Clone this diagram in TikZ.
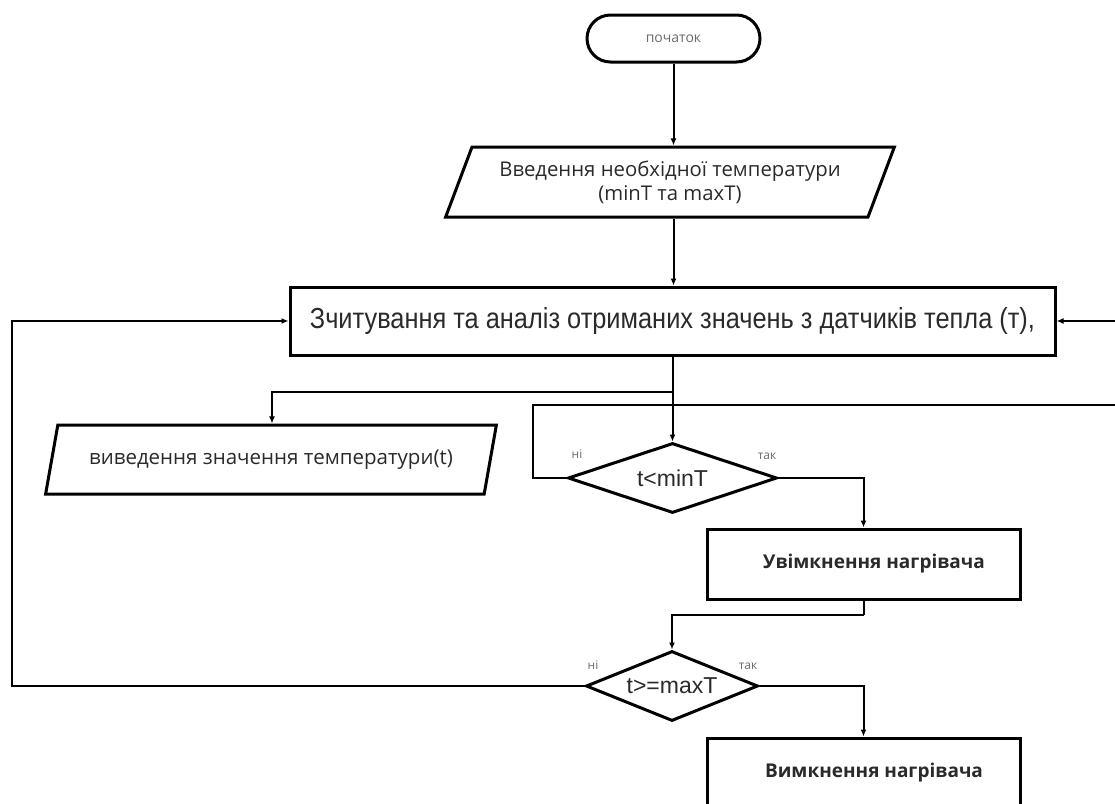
\documentclass[tikz,border=0pt]{standalone}
\usepackage{fontspec}
\setmainfont{Liberation Sans}
\newfontfamily\osans{Open Sans}
\usetikzlibrary{shapes.geometric,shapes.misc,arrows.meta}
\definecolor{txt}{HTML}{2A2A2A}
\definecolor{lbl}{HTML}{6A6A6A}
\begin{document}
\begin{tikzpicture}[x=1pt,y=-1pt,
  shapeline/.style={draw=black, line width=3pt, text=txt},
  terminal/.style={shapeline, rounded rectangle, minimum width=173pt, minimum height=47pt, inner sep=0pt},
  box/.style={shapeline, rectangle, inner sep=0pt},
  io/.style={shapeline, trapezium, trapezium left angle=62, trapezium right angle=118, trapezium stretches=true, inner sep=0pt, align=center},
  decision/.style={shapeline, diamond, inner sep=0pt, aspect=3},
  conn/.style={draw=black, line width=2pt},
  arr/.style={conn, -{Latex[length=7pt,width=6pt]}},
  lab/.style={text=lbl, font=\osans\fontsize{12}{14}\selectfont, inner sep=0pt}
]
\useasboundingbox (0,0) rectangle (1115,803);

\node[terminal, font=\osans\fontsize{14}{16}\selectfont, text=lbl] (start) at (673.5,38.5) {початок};
\node[io, minimum width=450pt, minimum height=70pt, font=\osans\fontsize{20.3}{24}\selectfont] (in) at (670,182) {Введення необхідної температури\\(minT та maxT)};
\node[box, minimum width=765pt, minimum height=68pt, font=\fontsize{29}{32}\selectfont] (read) at (672.5,321) {\scalebox{0.875}[1]{Зчитування та аналіз отриманих значень з датчиків тепла (т),}};
\node[io, minimum width=452pt, minimum height=69pt, font=\osans\fontsize{20.5}{24}\selectfont] (out) at (271,459.5) {виведення значення температури(t)};
\node[decision, minimum width=209pt, minimum height=70pt, font=\fontsize{23}{26}\selectfont] (d1) at (672.5,478) {t<minT};
\node[box, minimum width=313pt, minimum height=70pt, font=\osans\bfseries\fontsize{19}{22}\selectfont] (on) at (863.5,564) {\hspace*{21pt}Увімкнення нагрівача};
\node[decision, minimum width=172pt, minimum height=70pt, font=\fontsize{23}{26}\selectfont] (d2) at (672,686) {t>=maxT};
\node[box, minimum width=313pt, minimum height=70pt, font=\osans\bfseries\fontsize{19}{22}\selectfont] (off) at (863.5,773) {\hspace*{21pt}Вимкнення нагрівача};

\coordinate (split) at (672.5,392);
\coordinate (join) at (863.5,615);

\draw[arr] (start.south) -- (start.south |- in.north);
\draw[arr] (in.south -| start.south) -- (start.south |- read.north);
\draw[conn] (read.south) -- (split);
\draw[arr] (split) -| (out.north -| 272,0);
\draw[arr] (split) -- (d1.north);
\draw[arr] (d1.east) -| (on.north);
\draw[conn] (on.south) -- (join);
\draw[arr] (join) -| (d2.north);
\draw[arr] (d2.east) -| (off.north);
\draw[arr] (d2.west) -- (12,686) |- (read.west);
\draw[arr] (d1.west) -- (533,478) |- (1140,405) |- (read.east);

\node[lab] (n1) at (577,454) {ні};
\node[lab] (y1) at (767,456) {так};
\node[lab] (n2) at (593,665) {ні};
\node[lab] (y2) at (748,666) {так};
\end{tikzpicture}
\end{document}
